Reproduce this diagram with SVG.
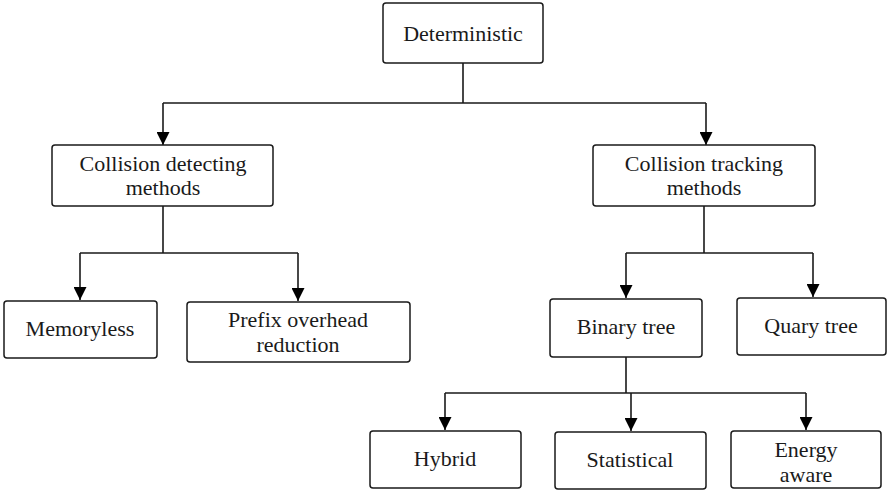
<svg xmlns="http://www.w3.org/2000/svg" width="888" height="491" viewBox="0 0 888 491">
  <style>
    .box { fill: #ffffff; stroke: #1a1a1a; stroke-width: 1.5; }
    .lbl { font-family: "Liberation Serif", "Times New Roman", serif; font-size: 22px; fill: #1a1a1a; text-anchor: middle; }
    .wire { fill: none; stroke: #1a1a1a; stroke-width: 1.6; }
    .arr { marker-end: url(#tip); }
  </style>
  <defs>
    <marker id="tip" markerUnits="userSpaceOnUse" markerWidth="13" markerHeight="13" refX="13" refY="6.5" orient="auto">
      <path d="M0,0 L13,6.5 L0,13 Z" fill="#000000"/>
    </marker>
  </defs>
  <rect width="888" height="491" fill="#ffffff"/>

  <!-- connectors -->
  <g id="connectors">
    <path class="wire" d="M463,63 V103 M163,103 H706"/>
    <path class="wire arr" d="M163,103 V145"/>
    <path class="wire arr" d="M706,103 V145"/>
    <path class="wire" d="M163,206 V253 M80,253 H298"/>
    <path class="wire arr" d="M80,253 V300"/>
    <path class="wire arr" d="M298,253 V301"/>
    <path class="wire" d="M704,206 V253 M626,253 H813"/>
    <path class="wire arr" d="M626,253 V298"/>
    <path class="wire arr" d="M813,253 V297"/>
    <path class="wire" d="M626,357 V393 M445,393 H806"/>
    <path class="wire arr" d="M445,393 V430"/>
    <path class="wire arr" d="M631,393 V431"/>
    <path class="wire arr" d="M806,393 V430"/>
  </g>

  <g id="deterministic">
    <rect class="box" x="383" y="3" width="160" height="60" rx="3"/>
    <text class="lbl" x="463" y="41">Deterministic</text>
  </g>

  <g id="collision-detecting">
    <rect class="box" x="52" y="145" width="221" height="61" rx="3"/>
    <text class="lbl" x="163" y="171">Collision detecting</text>
    <text class="lbl" x="163" y="195">methods</text>
  </g>

  <g id="collision-tracking">
    <rect class="box" x="593" y="145" width="222" height="61" rx="3"/>
    <text class="lbl" x="704" y="171">Collision tracking</text>
    <text class="lbl" x="704" y="195">methods</text>
  </g>

  <g id="memoryless">
    <rect class="box" x="4" y="301" width="153" height="57" rx="3"/>
    <text class="lbl" x="80" y="336">Memoryless</text>
  </g>

  <g id="prefix-overhead">
    <rect class="box" x="187" y="302" width="223" height="60" rx="3"/>
    <text class="lbl" x="298" y="327">Prefix overhead</text>
    <text class="lbl" x="298" y="352">reduction</text>
  </g>

  <g id="binary-tree">
    <rect class="box" x="550" y="299" width="152" height="58" rx="3"/>
    <text class="lbl" x="626" y="334">Binary tree</text>
  </g>

  <g id="quary-tree">
    <rect class="box" x="737" y="298" width="149" height="57" rx="3"/>
    <text class="lbl" x="811" y="333">Quary tree</text>
  </g>

  <g id="hybrid">
    <rect class="box" x="370" y="431" width="151" height="57" rx="3"/>
    <text class="lbl" x="445" y="466">Hybrid</text>
  </g>

  <g id="statistical">
    <rect class="box" x="555" y="432" width="151" height="57" rx="3"/>
    <text class="lbl" x="630" y="467">Statistical</text>
  </g>

  <g id="energy-aware">
    <rect class="box" x="731" y="431" width="150" height="57" rx="3"/>
    <text class="lbl" x="806" y="457">Energy</text>
    <text class="lbl" x="806" y="482">aware</text>
  </g>
</svg>
